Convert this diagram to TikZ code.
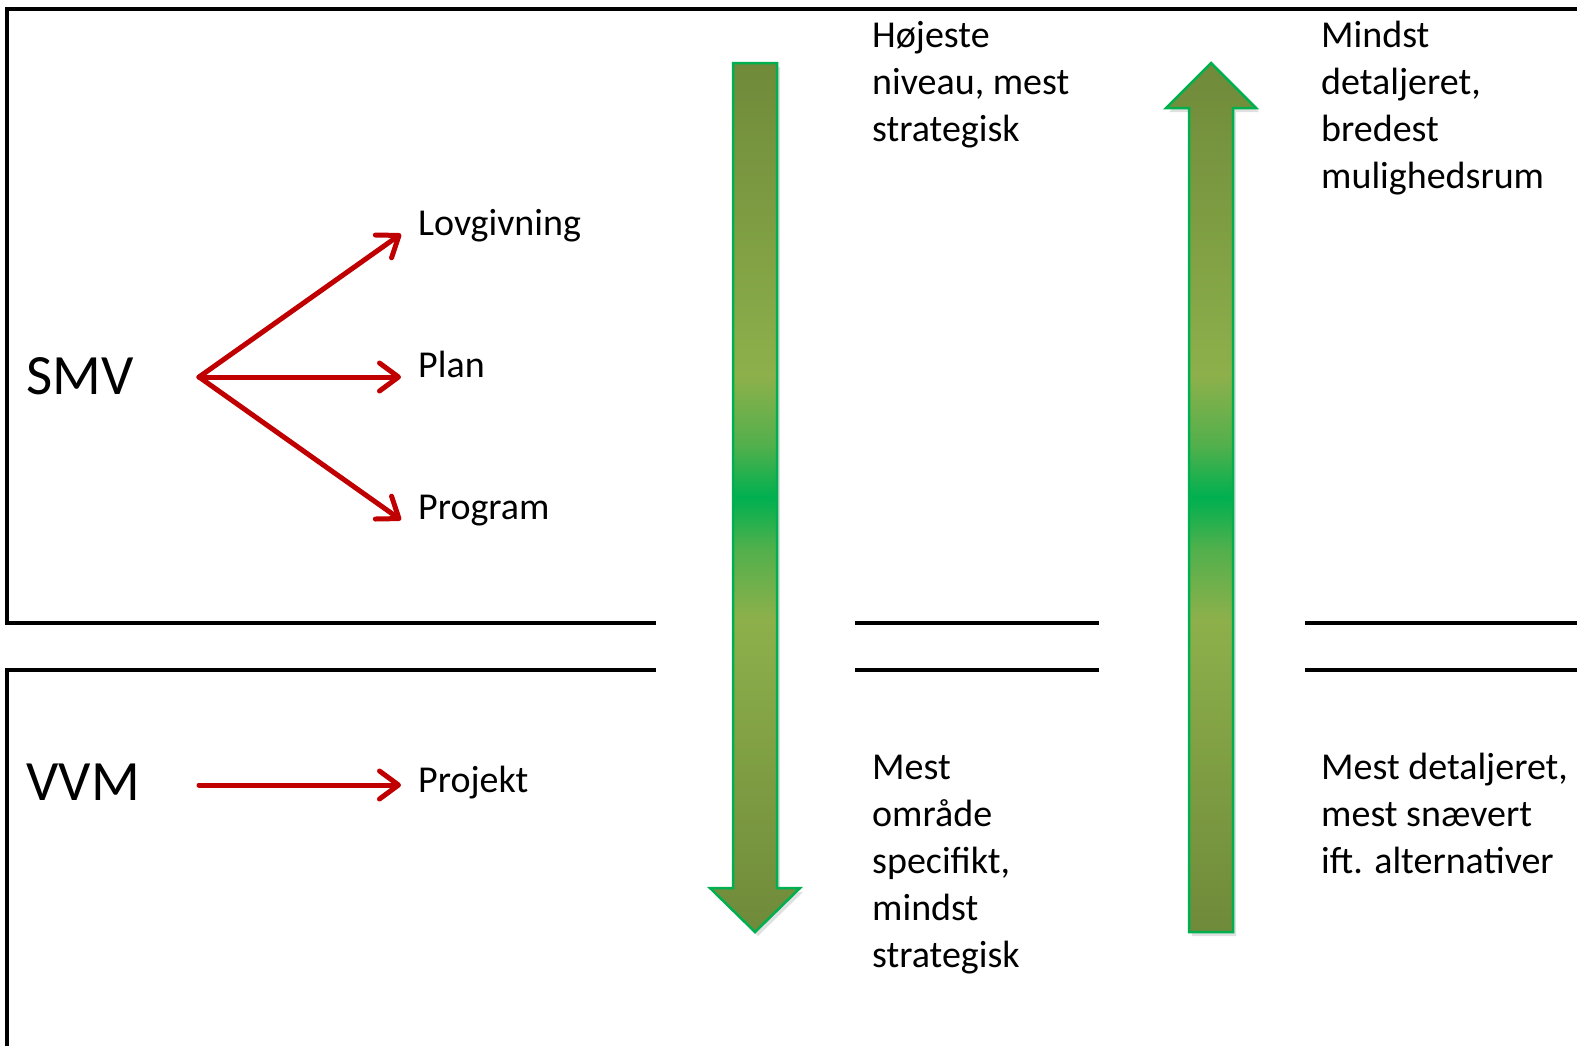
\documentclass[tikz,border=0pt]{standalone}
\usepackage{fontspec}
\setmainfont{Carlito}
\usetikzlibrary{arrows.meta,calc}
\definecolor{arrred}{HTML}{C00000}
\definecolor{gdark}{HTML}{6F8A3A}
\definecolor{glight}{HTML}{8DB04B}
\definecolor{gblend}{HTML}{52B04C}
\definecolor{gvivid}{HTML}{00B050}
\definecolor{gborder}{HTML}{00B050}
\pgfdeclareverticalshading{greenbar}{100bp}{color(0bp)=(gdark); color(25bp)=(gdark); color(43bp)=(glight); color(47bp)=(gblend); color(50bp)=(gvivid); color(53bp)=(gblend); color(57bp)=(glight); color(75bp)=(gdark); color(100bp)=(gdark)}
\tikzset{
  lbl/.style={font=\fontsize{38}{47}\selectfont, inner sep=0pt, anchor=base west, align=left},
  big/.style={font=\fontsize{57}{68}\selectfont, inner sep=0pt, anchor=base west},
  redarr/.style={draw=arrred, line width=5, line cap=round, -{Straight Barb[length=19pt,width=28pt,round]}},
  rulebar/.style={draw=black, line width=4},
  greenarrow/.style={shade, shading=greenbar, draw=gborder, line width=2.5, line join=miter},
  gshadow/.style={fill=black, opacity=0.12}
}
\begin{document}
\begin{tikzpicture}[x=1pt,y=-1pt]
\useasboundingbox (0,0) rectangle (1577,1045);
% frame lines
\draw[rulebar] (1580,9) -- (7,9) -- (7,623) -- (656,623);
\draw[rulebar] (656,670) -- (7,670) -- (7,1048);
\draw[rulebar] (855,623) -- (1099,623);
\draw[rulebar] (855,670) -- (1099,670);
\draw[rulebar] (1305,623) -- (1580,623);
\draw[rulebar] (1305,670) -- (1580,670);
% shadows of green arrows
\fill[gshadow] (736,67) -- (780,67) -- (780,892) -- (803,892) -- (758,936) -- (713,892) -- (736,892) -- cycle;
\fill[gshadow] (1214,67) -- (1259,112) -- (1236,112) -- (1236,936) -- (1192,936) -- (1192,112) -- (1169,112) -- cycle;
% green arrows
\path[greenarrow] (733,63) -- (777,63) -- (777,888) -- (800,888) -- (755,932) -- (710,888) -- (733,888) -- cycle;
\path[greenarrow] (1211,63) -- (1256,108) -- (1233,108) -- (1233,932) -- (1189,932) -- (1189,108) -- (1166,108) -- cycle;
% labels (base anchor = baseline of last line)
\node[big] (smv) at (26,394) {SMV};
\node[big] (vvm) at (26,800) {VVM};
\node[lbl] (lov) at (418,235) {Lovgivning};
\node[lbl] (plan) at (418,377) {Plan};
\node[lbl] (prog) at (418,519) {Program};
\node[lbl] (proj) at (418,792) {Projekt};
\node[lbl] (hoj) at (872,141) {Højeste\\niveau, mest\\strategisk};
\node[lbl] (mindst) at (1321,188) {Mindst\\detaljeret,\\bredest\\mulighedsrum};
\node[lbl] (mest) at (872,967) {Mest\\område\\specifikt,\\mindst\\strategisk};
\node[lbl] (mestdet) at (1321,873) {Mest detaljeret,\\mest snævert\\ift. alternativer};
% red arrows
\coordinate (fan) at (199,377);
\coordinate (vvmout) at (199,785);
\draw[redarr] (fan) -- ($(lov.base west)+(-17,-1)$);
\draw[redarr] (fan) -- ($(plan.base west)+(-17,0)$);
\draw[redarr] (fan) -- ($(prog.base west)+(-17,1)$);
\draw[redarr] (vvmout) -- ($(proj.base west)+(-17,-7)$);
\end{tikzpicture}
\end{document}
